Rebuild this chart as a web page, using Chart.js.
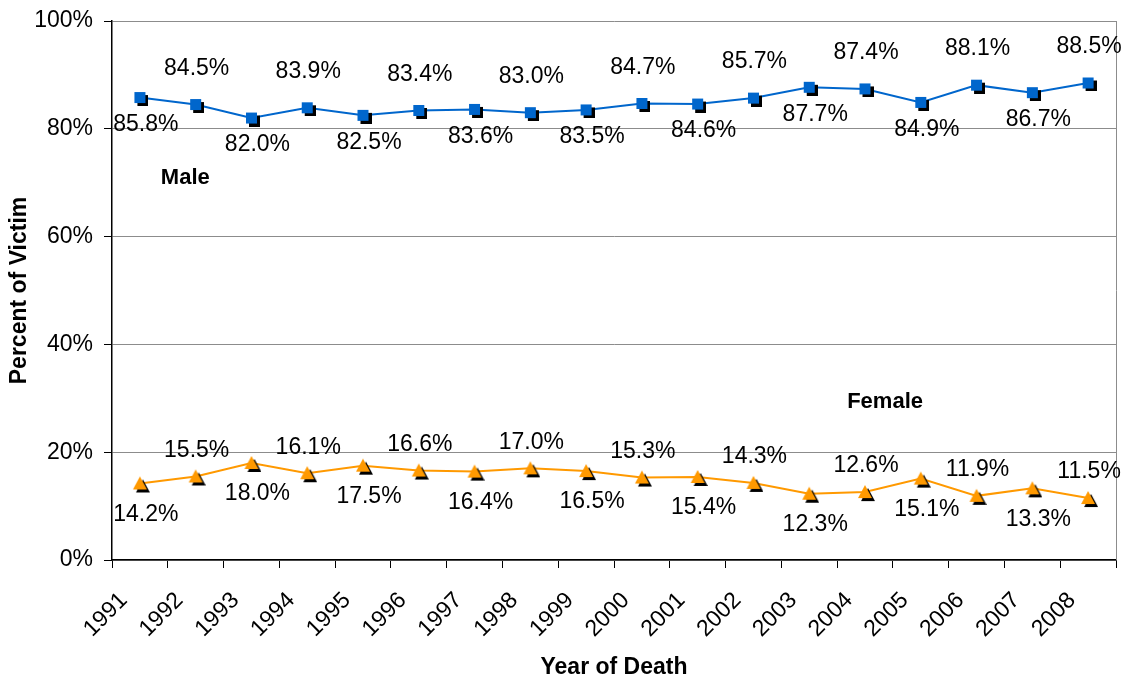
<!DOCTYPE html>
<html>
<head>
<meta charset="utf-8">
<script src="https://cdn.jsdelivr.net/npm/chart.js@4.4.1/dist/chart.umd.min.js"></script>
<style>
  html, body { margin: 0; padding: 0; background: #fff; }
  #wrap { width: 1125px; height: 681px; }
</style>
</head>
<body>
<div id="wrap"><canvas id="myChart"></canvas></div>
<script>
const years = ['1991', '1992', '1993', '1994', '1995', '1996', '1997', '1998', '1999',
               '2000', '2001', '2002', '2003', '2004', '2005', '2006', '2007', '2008'];
const male = [85.8, 84.5, 82.0, 83.9, 82.5, 83.4, 83.6, 83.0, 83.5,
              84.7, 84.6, 85.7, 87.7, 87.4, 84.9, 88.1, 86.7, 88.5];
const female = [14.2, 15.5, 18.0, 16.1, 17.5, 16.6, 16.4, 17.0, 16.5,
                15.3, 15.4, 14.3, 12.3, 12.6, 15.1, 11.9, 13.3, 11.5];
const yTicks = [0, 20, 40, 60, 80, 100];

const FONT = "'Liberation Sans', Arial, sans-serif";

// marker with a black drop shadow, drawn once to a small canvas
function marker(shape, color, size, off) {
    const c = document.createElement('canvas');
    const s = size + 2 * off;
    c.width = s;
    c.height = s;
    const g = c.getContext('2d');
    function draw(x, y, fill) {
        g.fillStyle = fill;
        if (shape === 'square') {
            g.fillRect(x, y, size, size);
        } else {
            g.beginPath();
            g.moveTo(x + size / 2, y);
            g.lineTo(x + size, y + size - 1);
            g.lineTo(x, y + size - 1);
            g.closePath();
            g.fill();
        }
    }
    draw(2 * off, 2 * off, '#000');
    draw(off, off, color);
    return c;
}

const squareMark = marker('square', '#0066CC', 11, 3);
const triMark = marker('triangle', '#FF9900', 14, 3);

const labelPlugin = {
    id: 'valueLabels',
    afterDatasetsDraw(chart) {
        const ctx = chart.ctx;
        ctx.save();
        ctx.font = '23px ' + FONT;
        ctx.fillStyle = '#000';
        ctx.textAlign = 'center';
        ctx.textBaseline = 'middle';
        chart.data.datasets.forEach((ds, d) => {
            const meta = chart.getDatasetMeta(d);
            const up = d === 0 ? -36 : -26;
            const down = d === 0 ? 27 : 31;
            meta.data.forEach((pt, i) => {
                const above = i % 2 === 1;
                let x = pt.x + (above ? 1 : 6);
                const txt = ds.data[i].toFixed(1) + '%';
                const w = ctx.measureText(txt).width;
                if (x + w / 2 > chart.width - 3) x = chart.width - 3 - w / 2;
                ctx.fillText(txt, x, pt.y + (above ? up : down));
            });
        });
        // series names
        const a = chart.chartArea;
        const ys = chart.scales.y;
        ctx.font = 'bold 22px ' + FONT;
        ctx.fillText('Male', a.left + 0.073 * (a.right - a.left), ys.getPixelForValue(70.9));
        ctx.fillText('Female', a.left + 0.77 * (a.right - a.left), ys.getPixelForValue(29.3));
        ctx.restore();
    }
};

const framePlugin = {
    id: 'frame',
    beforeDatasetsDraw(chart) {
        const a = chart.chartArea;
        const ctx = chart.ctx;
        ctx.save();
        ctx.strokeStyle = '#8c8c8c';
        ctx.lineWidth = 1;
        ctx.beginPath();
        ctx.moveTo(a.right + 0.5, a.top);
        ctx.lineTo(a.right + 0.5, a.bottom);
        ctx.stroke();
        ctx.restore();
    }
};

const ctx = document.getElementById('myChart').getContext('2d');

const config = {
    type: 'line',
    data: {
        labels: years,
        datasets: [{
            label: 'Male',
            data: male,
            borderColor: '#0066CC',
            borderWidth: 2,
            pointStyle: squareMark,
            pointRadius: 6,
            tension: 0
        }, {
            label: 'Female',
            data: female,
            borderColor: '#FF9900',
            borderWidth: 2,
            pointStyle: triMark,
            pointRadius: 6,
            tension: 0
        }]
    },
    options: {
        responsive: true,
        maintainAspectRatio: false,
        animation: false,
        layout: { padding: { top: 21, right: 9, left: 0, bottom: 0 } },
        plugins: {
            legend: { display: false },
            tooltip: { enabled: false }
        },
        scales: {
            x: {
                offset: true,
                grid: {
                    offset: true,
                    drawOnChartArea: false,
                    tickLength: 8,
                    tickColor: '#000'
                },
                border: { color: '#000', width: 1.5 },
                ticks: {
                    color: '#000',
                    font: { family: FONT, size: 23 },
                    minRotation: 45,
                    maxRotation: 45,
                    padding: 19,
                    labelOffset: -16,
                    autoSkip: false
                },
                title: {
                    display: true,
                    text: 'Year of Death',
                    color: '#000',
                    font: { family: FONT, size: 23, weight: 'bold' },
                    padding: { top: 0, bottom: 0 }
                },
                afterFit(scale) {
                    scale.height = 121;
                    scale.paddingLeft = 0;
                    scale.paddingRight = 0;
                }
            },
            y: {
                min: 0,
                max: 100,
                afterBuildTicks(scale) {
                    scale.ticks = yTicks.map(v => ({ value: v }));
                },
                grid: {
                    color: '#8c8c8c',
                    tickLength: 8,
                    tickColor: '#000'
                },
                border: { color: '#000', width: 1.5 },
                ticks: {
                    color: '#000',
                    font: { family: FONT, size: 23 },
                    padding: 11,
                    callback: v => v + '%'
                },
                title: {
                    display: true,
                    text: 'Percent of Victim',
                    color: '#000',
                    font: { family: FONT, size: 23, weight: 'bold' },
                    padding: { top: 6, bottom: 0 }
                },
                afterFit(scale) {
                    scale.width = 112;
                    scale.paddingTop = 0;
                    scale.paddingBottom = 0;
                }
            }
        }
    },
    plugins: [framePlugin, labelPlugin]
};

const myChart = new Chart(ctx, config);
</script>
</body>
</html>
